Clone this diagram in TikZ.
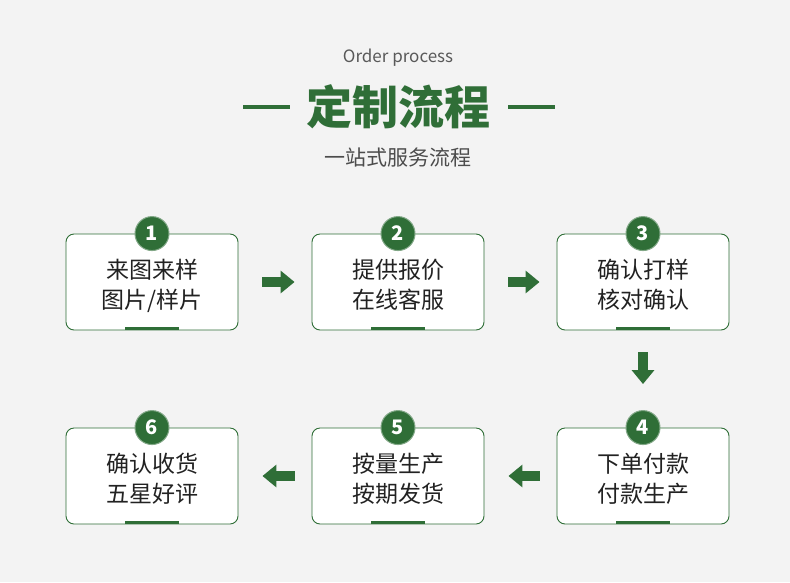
\documentclass[tikz,border=0pt]{standalone}
\usepackage{fontspec}
\usepackage{tikz}
\usetikzlibrary{positioning,arrows.meta}
\newfontfamily\cjk{Noto Sans CJK SC}
\definecolor{bggray}{HTML}{F3F3F3}
\definecolor{leaf}{HTML}{2F6E37}
\definecolor{ink}{HTML}{222222}
\newcommand\twolines[2]{\raisebox{-5pt}[\height][\depth]{\begin{tabular}{@{}c@{}}#1\\#2\end{tabular}}}
\tikzset{
  stepbox/.style={draw=leaf, line width=0.9pt, fill=white, rounded corners=8pt,
    minimum width=172pt, minimum height=96pt, text=ink,
    font=\cjk\fontsize{23}{30}\selectfont},
  badge/.style={circle, fill=leaf, draw=leaf!60!white, line width=1pt,
    minimum size=34pt, inner sep=0pt, text=white, font=\cjk\bfseries\fontsize{20}{20}\selectfont},
  flow/.style={leaf, line width=10pt, -{Triangle[width=22pt,length=14pt]}}
}

\begin{document}
\begin{tikzpicture}[x=1pt, y=-1pt]
    \fill[bggray] (0,0) rectangle (790,582);

    % heading
    \node[text=black!65, font=\cjk\fontsize{17}{17}\selectfont] (en) at (398, 58) {Order process};
    \node[text=leaf, font=\cjk\bfseries\fontsize{46}{46}\selectfont] (title) at (398, 107) {定制流程};
    \node[text=black!70, font=\cjk\fontsize{21}{21}\selectfont] (sub) at (398, 158) {一站式服务流程};
    \draw[leaf, line width=4pt] (243, 107) -- (290, 107);
    \draw[leaf, line width=4pt] (508, 107) -- (555, 107);

    % boxes
    \node[stepbox] (box1) at (152, 282) {\twolines{来图来样}{图片/样片}};
    \node[stepbox] (box2) at (398, 282) {\twolines{提供报价}{在线客服}};
    \node[stepbox] (box3) at (643, 282) {\twolines{确认打样}{核对确认}};
    \node[stepbox] (box4) at (643, 476) {\twolines{下单付款}{付款生产}};
    \node[stepbox] (box5) at (398, 476) {\twolines{按量生产}{按期发货}};
    \node[stepbox] (box6) at (152, 476) {\twolines{确认收货}{五星好评}};

    \foreach \i in {1,...,6} {
        \draw[leaf, line width=3pt] ([xshift=-27pt, yshift=1.5pt]box\i.south) -- ([xshift=27pt, yshift=1.5pt]box\i.south);
        \node[badge] (n\i) at (box\i.north) {\i};
    }

    % arrows
    \draw[flow, shorten <=24pt, shorten >=17pt] (box1) -- (box2);
    \draw[flow, shorten <=24pt, shorten >=17pt] (box2) -- (box3);
    \draw[flow, shorten <=22pt, shorten >=26pt] (box3) -- (n4);
    \draw[flow, shorten <=17pt, shorten >=24pt] (box4) -- (box5);
    \draw[flow, shorten <=17pt, shorten >=24pt] (box5) -- (box6);
\end{tikzpicture}
\end{document}
